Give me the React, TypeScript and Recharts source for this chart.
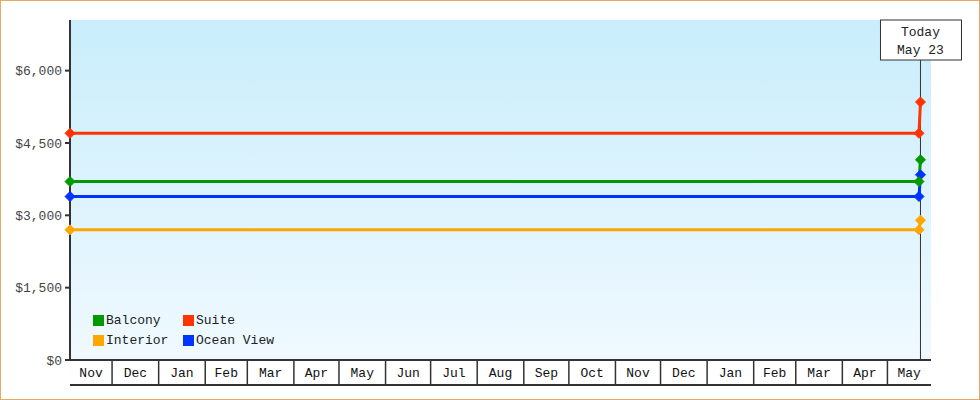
import React from 'react';
import {
  LineChart, Line, XAxis, YAxis, CartesianGrid, ReferenceLine,
} from 'recharts';

// ---- data ----
const pointDates = ['2024-11-03', '2026-05-22', '2026-05-23'];
const balcony = [3700, 3700, 4150];
const suite = [4700, 4700, 5350];
const interior = [2700, 2700, 2900];
const oceanView = [3390, 3390, 3840];

const axisStart = '2024-11-03';
const axisEnd = '2026-05-30';
const today = '2026-05-23';
const todayLabel = ['Today', 'May 23'];

const monthLabels = [
  'Nov', 'Dec', 'Jan', 'Feb', 'Mar', 'Apr', 'May', 'Jun', 'Jul', 'Aug',
  'Sep', 'Oct', 'Nov', 'Dec', 'Jan', 'Feb', 'Mar', 'Apr', 'May',
];
const yTicks = [0, 1500, 3000, 4500, 6000];

const series = [
  { key: 'interior', name: 'Interior', color: '#ffa500', values: interior },
  { key: 'oceanView', name: 'Ocean View', color: '#0033ff', values: oceanView },
  { key: 'balcony', name: 'Balcony', color: '#009900', values: balcony },
  { key: 'suite', name: 'Suite', color: '#ff3300', values: suite },
];
// legend is laid out row by row
const legendOrder = ['balcony', 'suite', 'interior', 'oceanView'];

const toTime = (s: string) => Date.parse(s + 'T00:00:00Z');
const t0 = toTime(axisStart);
const t1 = toTime(axisEnd);

const data = pointDates.map((d, i) => {
  const row: any = { t: toTime(d) };
  series.forEach((s) => { row[s.key] = s.values[i]; });
  return row;
});

// month boxes along the bottom: separators at month starts, labels centred in each box
const monthStart = (i: number) => Date.UTC(2024, 10 + i, 1);
const boundaries = monthLabels.slice(1).map((_, i) => monthStart(i + 1));
const labelCenters = monthLabels.map((_, i) => {
  const a = Math.max(monthStart(i), t0);
  const b = Math.min(monthStart(i + 1), t1);
  return (a + b) / 2;
});
const xTicks = [t0, ...boundaries, ...labelCenters].sort((a, b) => a - b);

const FONT = '"Liberation Mono", "DejaVu Sans Mono", monospace';
const INK = '#333';
const BOX_H = 25;

const Diamond = (props: any) => {
  const { cx, cy, stroke, index } = props;
  if (cx == null || cy == null) return <g key={index} />;
  const r = 5;
  return (
    <polygon
      key={index}
      points={`${cx},${cy - r} ${cx + r},${cy} ${cx},${cy + r} ${cx - r},${cy}`}
      fill={stroke}
      stroke={stroke}
      strokeWidth={1}
      strokeLinejoin="round"
    />
  );
};

const TodayLabel = (props: any) => {
  const { viewBox } = props;
  if (!viewBox) return null;
  const x = viewBox.x;
  const y = viewBox.y;
  return (
    <g>
      <rect x={x - 40} y={y} width={81} height={40} fill="#fff" stroke={INK} strokeWidth={1} />
      {todayLabel.map((s, i) => (
        <text key={i} x={x} y={y + 12 + i * 18} textAnchor="middle" dominantBaseline="central"
          fontFamily={FONT} fontSize={13} fill="#222">{s}</text>
      ))}
    </g>
  );
};

const MonthTick = (props: any) => {
  const { x, y, payload, width } = props;
  const v = payload.value;
  if (v === t0) {
    // bottom edge of the month boxes
    return <line x1={x} x2={x + width} y1={y + BOX_H} y2={y + BOX_H} stroke={INK} strokeWidth={2} />;
  }
  const bi = boundaries.indexOf(v);
  if (bi >= 0) {
    return <line x1={x} x2={x} y1={y} y2={y + BOX_H} stroke={INK} strokeWidth={1.5} />;
  }
  const li = labelCenters.indexOf(v);
  return (
    <text x={x} y={y + 13} textAnchor="middle" dominantBaseline="central"
      fontFamily={FONT} fontSize={13} fill="#111">{monthLabels[li]}</text>
  );
};

const fmtMoney = (v: number) => '$' + v.toLocaleString('en-US');

export default function App() {
  const byKey: any = {};
  series.forEach((s) => { byKey[s.key] = s; });
  return (
    <div style={{ position: 'absolute', left: 0, top: 0, width: 980, height: 400, background: '#fff' }}>
      <LineChart width={980} height={400} data={data} margin={{ top: 20, right: 49, left: 0, bottom: 15 }}>
        <defs>
          <linearGradient id="plotBg" x1="0" y1="0" x2="0" y2="1">
            <stop offset="0%" stopColor="#c9edfb" />
            <stop offset="100%" stopColor="#f0f9ff" />
          </linearGradient>
        </defs>
        <CartesianGrid horizontal={false} vertical={false} fill="url(#plotBg)" fillOpacity={1} />
        <XAxis
          dataKey="t"
          type="number"
          scale="linear"
          domain={[t0, t1]}
          ticks={xTicks}
          interval={0}
          height={25}
          tickSize={0}
          tickMargin={0}
          tickLine={false}
          tick={<MonthTick />}
          axisLine={{ stroke: INK, strokeWidth: 2 }}
        />
        <YAxis
          type="number"
          domain={[0, 7050]}
          ticks={yTicks}
          interval={0}
          width={70}
          tickSize={5}
          tickMargin={3}
          tickFormatter={fmtMoney}
          tick={{ fill: '#444', fontFamily: FONT, fontSize: 13 }}
          tickLine={{ stroke: INK, strokeWidth: 2 }}
          axisLine={{ stroke: INK, strokeWidth: 2 }}
        />
        <ReferenceLine
          x={toTime(today)}
          stroke={INK}
          strokeWidth={1}
          label={<TodayLabel />}
        />
        {series.map((s) => (
          <Line
            key={s.key}
            type="linear"
            dataKey={s.key}
            name={s.name}
            stroke={s.color}
            strokeWidth={3}
            dot={<Diamond />}
            activeDot={false}
            isAnimationActive={false}
          />
        ))}
      </LineChart>
      <div style={{
        position: 'absolute', left: 93, top: 312, display: 'grid',
        gridTemplateColumns: '90px 120px', rowGap: 4, fontFamily: FONT, fontSize: 13, color: '#222',
      }}>
        {legendOrder.map((k) => (
          <div key={k} style={{ display: 'flex', alignItems: 'center', height: 16 }}>
            <span style={{ width: 11, height: 11, background: byKey[k].color, marginRight: 2, display: 'inline-block' }} />
            <span>{byKey[k].name}</span>
          </div>
        ))}
      </div>
      <div style={{
        position: 'absolute', left: 0, top: 0, width: 980, height: 400, boxSizing: 'border-box',
        border: '1px solid #e8a865', pointerEvents: 'none',
      }} />
    </div>
  );
}
